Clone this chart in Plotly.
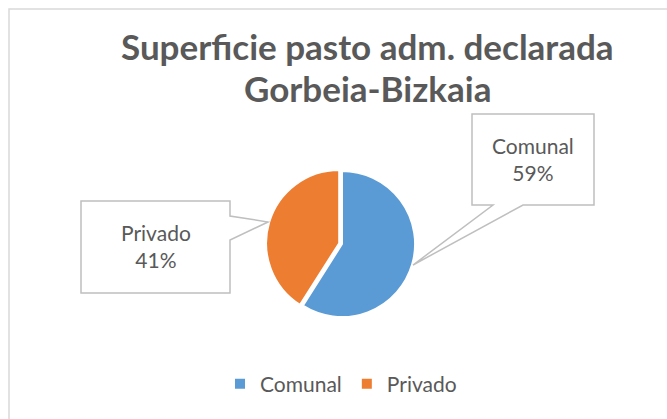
import plotly.graph_objects as go

categories = ["Comunal", "Privado"]
values = [59, 41]
colors = ["#5B9BD5", "#ED7D31"]
title_lines = ["Superficie pasto adm. declarada", "Gorbeia-Bizkaia"]

W, H = 667, 419
FONT = "Lato, 'Open Sans', sans-serif"
TXT = "#595959"

def px(x):
    return x / W

def py(y):
    return 1 - y / H

fig = go.Figure()
fig.add_trace(go.Pie(
    labels=categories, values=values, sort=False, direction="clockwise",
    rotation=0, textinfo="none", hoverinfo="label+percent",
    marker=dict(colors=colors, line=dict(color="white", width=2)),
    pull=[0, 0.04],
    domain=dict(x=[px(342 - 76), px(342 + 76)], y=[py(244 + 76), py(244 - 76)]),
))

total = sum(values)
pct = [round(v * 100 / total) for v in values]

shapes = [
    dict(type="rect", xref="paper", yref="paper", x0=px(9), x1=px(W + 5), y0=py(H + 5), y1=py(9),
         line=dict(color="#D9D9D9", width=1.5), fillcolor="rgba(0,0,0,0)", layer="below"),
]

def path(pts):
    return "M " + " L ".join(f"{px(x)},{py(y)}" for x, y in pts) + " Z"

# Privado callout
shapes.append(dict(type="path", xref="paper", yref="paper",
                   path=path([(81, 201), (230, 201), (230, 216), (268, 222), (230, 240), (230, 293), (81, 293)]),
                   line=dict(color="#BFBFBF", width=1.5), fillcolor="white"))
# Comunal callout
shapes.append(dict(type="path", xref="paper", yref="paper",
                   path=path([(472, 114), (594, 114), (594, 205), (523, 205), (413, 265), (493, 205), (472, 205)]),
                   line=dict(color="#BFBFBF", width=1.5), fillcolor="white"))

def ann(text, x, y, size, bold=False):
    if bold:
        text = f"<b>{text}</b>"
    return dict(text=text, x=px(x), y=py(y), xref="paper", yref="paper",
                xanchor="center", yanchor="middle", showarrow=False, align="center",
                font=dict(family=FONT, size=size, color=TXT))

annotations = [
    ann(f"{categories[1]}<br>{pct[1]}%", 155.5, 246, 21),
    ann(f"{categories[0]}<br>{pct[0]}%", 533, 159, 21),
    ann(title_lines[0], 367, 46, 35, bold=True),
    ann(title_lines[1], 367, 88, 35, bold=True),
]

fig.update_layout(
    width=W, height=H, margin=dict(l=0, r=0, t=0, b=0),
    paper_bgcolor="white", plot_bgcolor="white",
    shapes=shapes, annotations=annotations,
    showlegend=True,
    legend=dict(orientation="h", x=px(341), y=py(384), xanchor="center", yanchor="middle",
                font=dict(family=FONT, size=21, color=TXT), itemwidth=30, traceorder="normal"),
)

fig.write_html("out.html", config={"displayModeBar": False},
               post_script="document.body.style.margin='0';document.body.style.overflow='hidden';")
